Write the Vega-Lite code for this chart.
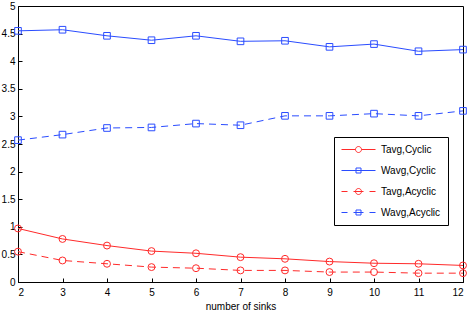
{
  "$schema": "https://vega.github.io/schema/vega-lite/v6.json",
  "width": 445,
  "height": 276,
  "autosize": {"type": "none"},
  "padding": {"left": 18, "top": 6, "right": 6, "bottom": 32},
  "background": "white",
  "config": {
    "font": "Liberation Sans",
    "view": {"stroke": "black", "strokeWidth": 1},
    "axis": {
      "grid": false,
      "domainColor": "black",
      "tickColor": "black",
      "labelColor": "black",
      "labelFontSize": 10,
      "titleFontSize": 10,
      "titleFontWeight": "normal",
      "titleColor": "black",
      "tickSize": -4,
      "domainWidth": 1,
      "tickWidth": 1
    },
    "legend": {
      "orient": "none",
      "legendX": 316,
      "legendY": 131,
      "strokeColor": "black",
      "fillColor": "white",
      "padding": 7,
      "symbolSize": 100,
      "symbolOffset": 12,
      "labelOffset": 17,
      "rowPadding": 10,
      "labelFontSize": 10,
      "labelColor": "black",
      "labelLimit": 200,
      "symbolOpacity": 1,
      "symbolStrokeWidth": 1,
      "symbolFillColor": "transparent"
    }
  },
  "data": {
    "values": [
      {"sinks": 2, "value": 0.97, "series": "Tavg,Cyclic"},
      {"sinks": 3, "value": 0.78, "series": "Tavg,Cyclic"},
      {"sinks": 4, "value": 0.66, "series": "Tavg,Cyclic"},
      {"sinks": 5, "value": 0.56, "series": "Tavg,Cyclic"},
      {"sinks": 6, "value": 0.52, "series": "Tavg,Cyclic"},
      {"sinks": 7, "value": 0.45, "series": "Tavg,Cyclic"},
      {"sinks": 8, "value": 0.42, "series": "Tavg,Cyclic"},
      {"sinks": 9, "value": 0.37, "series": "Tavg,Cyclic"},
      {"sinks": 10, "value": 0.34, "series": "Tavg,Cyclic"},
      {"sinks": 11, "value": 0.33, "series": "Tavg,Cyclic"},
      {"sinks": 12, "value": 0.30, "series": "Tavg,Cyclic"},
      {"sinks": 2, "value": 4.55, "series": "Wavg,Cyclic"},
      {"sinks": 3, "value": 4.57, "series": "Wavg,Cyclic"},
      {"sinks": 4, "value": 4.46, "series": "Wavg,Cyclic"},
      {"sinks": 5, "value": 4.38, "series": "Wavg,Cyclic"},
      {"sinks": 6, "value": 4.46, "series": "Wavg,Cyclic"},
      {"sinks": 7, "value": 4.36, "series": "Wavg,Cyclic"},
      {"sinks": 8, "value": 4.37, "series": "Wavg,Cyclic"},
      {"sinks": 9, "value": 4.26, "series": "Wavg,Cyclic"},
      {"sinks": 10, "value": 4.31, "series": "Wavg,Cyclic"},
      {"sinks": 11, "value": 4.18, "series": "Wavg,Cyclic"},
      {"sinks": 12, "value": 4.21, "series": "Wavg,Cyclic"},
      {"sinks": 2, "value": 0.55, "series": "Tavg,Acyclic"},
      {"sinks": 3, "value": 0.39, "series": "Tavg,Acyclic"},
      {"sinks": 4, "value": 0.33, "series": "Tavg,Acyclic"},
      {"sinks": 5, "value": 0.27, "series": "Tavg,Acyclic"},
      {"sinks": 6, "value": 0.25, "series": "Tavg,Acyclic"},
      {"sinks": 7, "value": 0.21, "series": "Tavg,Acyclic"},
      {"sinks": 8, "value": 0.21, "series": "Tavg,Acyclic"},
      {"sinks": 9, "value": 0.18, "series": "Tavg,Acyclic"},
      {"sinks": 10, "value": 0.18, "series": "Tavg,Acyclic"},
      {"sinks": 11, "value": 0.16, "series": "Tavg,Acyclic"},
      {"sinks": 12, "value": 0.16, "series": "Tavg,Acyclic"},
      {"sinks": 2, "value": 2.57, "series": "Wavg,Acyclic"},
      {"sinks": 3, "value": 2.67, "series": "Wavg,Acyclic"},
      {"sinks": 4, "value": 2.79, "series": "Wavg,Acyclic"},
      {"sinks": 5, "value": 2.80, "series": "Wavg,Acyclic"},
      {"sinks": 6, "value": 2.87, "series": "Wavg,Acyclic"},
      {"sinks": 7, "value": 2.84, "series": "Wavg,Acyclic"},
      {"sinks": 8, "value": 3.01, "series": "Wavg,Acyclic"},
      {"sinks": 9, "value": 3.01, "series": "Wavg,Acyclic"},
      {"sinks": 10, "value": 3.05, "series": "Wavg,Acyclic"},
      {"sinks": 11, "value": 3.01, "series": "Wavg,Acyclic"},
      {"sinks": 12, "value": 3.10, "series": "Wavg,Acyclic"}
    ]
  },
  "encoding": {
    "x": {
      "field": "sinks", "type": "quantitative",
      "scale": {"domain": [2, 12], "nice": false, "zero": false},
      "axis": {"values": [2,3,4,5,6,7,8,9,10,11,12], "title": "number of sinks", "labelPadding": 9, "titlePadding": 4}
    },
    "y": {
      "field": "value", "type": "quantitative",
      "scale": {"domain": [0, 5], "nice": false},
      "axis": {"values": [0,0.5,1,1.5,2,2.5,3,3.5,4,4.5,5], "format": "~g", "title": null, "labelPadding": 7}
    }
  },
  "layer": [
    {
      "mark": {"type": "point", "filled": false, "size": 100, "strokeWidth": 1, "opacity": 0},
      "encoding": {
        "color": {
          "field": "series", "type": "nominal",
          "scale": {"domain": ["Tavg,Cyclic", "Wavg,Cyclic", "Tavg,Acyclic", "Wavg,Acyclic"], "range": ["#ff2a2a", "#2a4cff", "#ff2a2a", "#2a4cff"]},
          "legend": {"title": null}
        },
        "shape": {
          "field": "series", "type": "nominal",
          "scale": {
            "domain": ["Tavg,Cyclic", "Wavg,Cyclic", "Tavg,Acyclic", "Wavg,Acyclic"],
            "range": [
              "M-3.4,0H-0.6M0.6,0H3.4M0.6,0A0.6,0.6,0,1,1,-0.6,0A0.6,0.6,0,1,1,0.6,0",
              "M-3.4,0H3.4M-0.5,-0.5H0.5V0.5H-0.5Z",
              "M-3.4,0H-2.2M-1,0H1M2.2,0H3.4M0.6,0A0.6,0.6,0,1,1,-0.6,0A0.6,0.6,0,1,1,0.6,0",
              "M-3.4,0H-2.2M-1,0H1M2.2,0H3.4M-0.5,-0.5H0.5V0.5H-0.5Z"
            ]
          },
          "legend": {"title": null}
        }
      }
    },
    {
      "transform": [{"filter": {"field": "series", "oneOf": ["Tavg,Cyclic", "Wavg,Cyclic"]}}],
      "mark": {"type": "line", "strokeWidth": 1},
      "encoding": {
        "color": {"field": "series", "type": "nominal"}
      }
    },
    {
      "transform": [{"filter": {"field": "series", "oneOf": ["Tavg,Acyclic", "Wavg,Acyclic"]}}],
      "mark": {"type": "line", "strokeWidth": 1, "strokeDash": [7, 5]},
      "encoding": {
        "color": {"field": "series", "type": "nominal"}
      }
    },
    {
      "transform": [{"filter": {"field": "series", "oneOf": ["Tavg,Cyclic", "Tavg,Acyclic"]}}],
      "mark": {"type": "point", "shape": "circle", "filled": false, "size": 48, "strokeWidth": 1, "opacity": 1},
      "encoding": {
        "color": {"field": "series", "type": "nominal"}
      }
    },
    {
      "transform": [{"filter": {"field": "series", "oneOf": ["Wavg,Cyclic", "Wavg,Acyclic"]}}],
      "mark": {"type": "point", "shape": "square", "filled": false, "size": 44, "strokeWidth": 1, "opacity": 1},
      "encoding": {
        "color": {"field": "series", "type": "nominal"}
      }
    }
  ]
}
